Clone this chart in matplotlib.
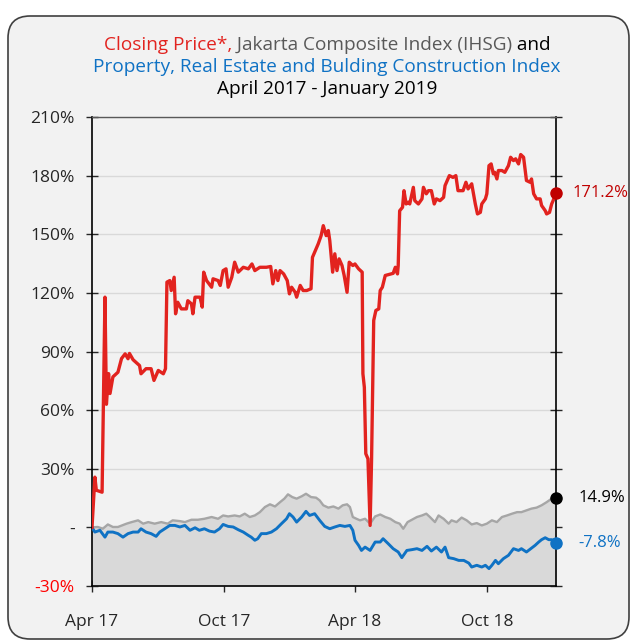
import numpy as np
import matplotlib
matplotlib.use('Agg')
import matplotlib.pyplot as plt
from matplotlib.patches import FancyBboxPatch

plt.rcParams['font.family'] = ['Open Sans', 'DejaVu Sans']

# Data: days since 2017-04-01, values in % change
start = np.datetime64('2017-04-01')

red_days = [0, 4, 6, 14, 18, 20, 23, 25, 29, 36, 41, 46, 50, 52, 57, 66, 68, 75, 82, 86,
            92, 99, 102, 104, 108, 110, 114, 116, 119, 124, 131, 133, 138, 140, 143, 150,
            153, 155, 159, 166, 168, 175, 178, 182, 186, 189, 194, 198, 203, 210, 217, 222,
            226, 233, 242, 248, 251, 255, 258, 261, 266, 271, 274, 277, 282, 284, 289, 293,
            298, 304, 306, 310, 314, 318, 321, 325, 328, 330, 334, 337, 340, 343, 347, 350,
            354, 357, 362, 365, 370, 375, 376, 378, 380, 383, 386, 388, 391, 394, 398, 400,
            403, 407, 418, 421, 424, 425, 427, 431, 433, 436, 439, 441, 446, 448, 453, 458,
            460, 464, 467, 471, 475, 478, 483, 488, 490, 496, 501, 505, 508, 515, 519, 522,
            527, 532, 535, 539, 541, 546, 548, 551, 554, 557, 559, 562, 564, 569, 573, 578,
            581, 585, 588, 592, 595, 599, 603, 608, 610, 613, 617, 622, 624, 629, 631, 635,
            638, 640, 644]
red_vals = [0, 25.7, 19, 18, 117.8, 63, 78.7, 68.5, 77, 79.4, 86.4, 88.8, 86.3, 89, 85.8,
            82.8, 78.6, 81.2, 81.2, 75.2, 80.3, 78.6, 81.2, 125.5, 126.3, 121.2, 128, 109.3,
            115.2, 111.8, 111.8, 116, 114.4, 109.3, 117.8, 117.8, 112.7, 130.6, 126.3, 122.9,
            127.2, 126.3, 123.8, 131.4, 132.3, 122.9, 128, 135.7, 130.6, 133.1, 132.3, 134.8,
            131.4, 133.1, 133.1, 133.5, 124.6, 131.4, 126.3, 131.4, 129.7, 126.3, 119.5, 122.9,
            120.3, 117.8, 123.8, 121.2, 121.2, 122.1, 138.2, 141.7, 145.1, 149.3, 154.4, 149.3,
            151.9, 146.8, 130.6, 140, 131.4, 137.4, 134, 128.9, 120.3, 135.7, 134, 134.8,
            132.3, 130.6, 78.6, 71.7, 37.7, 35.1, 1, 34.3, 105.9, 111, 111.8, 121.2, 122.9,
            128.9, 130, 133.1, 129.7, 134, 162, 163.8, 172.3, 165.5, 166.4, 165.5, 174, 167.2,
            165.5, 168.1, 174, 170.7, 172.3, 172.3, 165.5, 168.1, 167.2, 168.9, 174.9, 180,
            179.1, 180, 172.3, 172.3, 176.6, 173.2, 175.8, 165.5, 160.4, 161.2, 165.5, 168.1,
            170.7, 185.1, 186, 180.9, 181.7, 178.3, 182.6, 182.6, 181.7, 185.1, 189.4, 187.7,
            188.6, 186, 190.8, 189.4, 177.5, 176.6, 178.3, 170.7, 168.1, 168.1, 164.7, 162.1,
            160.4, 161.2, 165.5, 167.2, 171.2]

jci_days = [0, 8, 15, 22, 29, 36, 48, 55, 64, 71, 78, 87, 96, 105, 112, 122, 129, 138, 147,
            156, 166, 175, 182, 189, 198, 205, 212, 219, 226, 233, 240, 247, 254, 261, 267,
            272, 278, 284, 291, 297, 304, 311, 316, 321, 328, 335, 342, 348, 354, 358, 362,
            367, 372, 379, 386, 393, 400, 407, 414, 421, 427, 432, 438, 444, 451, 458, 464,
            469, 476, 481, 488, 495, 499, 506, 513, 520, 527, 534, 541, 548, 555, 562, 569,
            576, 583, 590, 596, 603, 610, 617, 624, 631, 638, 644]
jci_vals = [0, 0.2, -0.7, 1.5, 0.2, 0.2, 1.9, 2.7, 3.6, 1.9, 2.7, 1.9, 2.7, 1.9, 3.6, 3.2,
            2.7, 3.9, 3.9, 4.4, 5.3, 4.4, 6.1, 5.6, 6.1, 5.6, 7, 5.3, 6.1, 7.8, 10.4, 11.8,
            10.7, 12.9, 14.7, 16.9, 15.5, 14.7, 15.9, 17.2, 15.5, 15.2, 13.8, 11.3, 10.1,
            10.7, 9.6, 11.3, 11.8, 10.4, 5.3, 4.4, 3.6, 4.4, 1.9, 5.6, 6.6, 5.3, 4.4, 2.7,
            1.9, -0.7, 2.7, 3.9, 5.3, 6.1, 7, 5.3, 2.7, 6.1, 4.4, 1.9, 3.6, 2.7, 5, 3.6, 1.5,
            2.2, 1, 1.9, 3.6, 2.7, 5.3, 6.1, 7, 7.8, 7.8, 8.7, 9.6, 10.1, 11.3, 12.9, 14.7,
            14.9]

prop_days = [0, 4, 11, 18, 22, 29, 36, 43, 50, 57, 64, 68, 75, 82, 89, 94, 101, 108, 115,
             122, 129, 136, 143, 149, 156, 163, 170, 177, 182, 189, 196, 203, 210, 217, 221,
             226, 230, 235, 242, 249, 256, 263, 270, 274, 279, 284, 291, 297, 302, 309, 316,
             323, 330, 337, 344, 351, 358, 362, 365, 370, 374, 379, 386, 393, 400, 404, 411,
             418, 425, 430, 437, 444, 451, 458, 465, 471, 478, 485, 490, 495, 502, 509, 516,
             523, 527, 534, 541, 546, 551, 555, 560, 564, 571, 578, 585, 592, 596, 603, 609,
             615, 620, 624, 629, 634, 638, 644]
prop_vals = [0, -2.4, -1.5, -5, -2.4, -2.4, -3.2, -5, -3.2, -2.4, -2.4, -0.7, -2.4, -3.2,
             -4.6, -2.4, -0.7, 1, 1, 0.2, 1, -1.5, -0.2, -1.5, -0.7, -1.9, -2.4, -0.7, 1.5,
             0.5, 0.2, -1.2, -2.4, -4.1, -5, -6.6, -5.8, -3.2, -3.2, -2.4, -0.7, 1.9, 4.4, 7,
             5.3, 2.7, 5.3, 8.2, 6.1, 7, 3.6, 0.5, -0.7, 0.2, 1, 0.5, 1, -1.5, -6.6, -9.2,
             -11.8, -10.1, -11.8, -7.5, -7.5, -5.8, -8.3, -10.9, -12.6, -15.5, -11.8, -11.4,
             -10.9, -11.8, -9.7, -12.1, -10.1, -12.6, -10.1, -15.5, -16, -16.9, -16.9, -18.3,
             -20.3, -19.4, -20.3, -19.4, -21.1, -19.4, -16.9, -18.6, -16, -14.3, -10.9, -11.8,
             -10.9, -12.6, -10.9, -9.2, -7.5, -6.3, -5.3, -6.3, -6.3, -7.8]

tick_dates = ['2017-04-01', '2017-10-01', '2018-04-01', '2018-10-01']
tick_names = ['Apr 17', 'Oct 17', 'Apr 18', 'Oct 18']
y_ticks = [-30, 0, 30, 60, 90, 120, 150, 180, 210]
y_names = ['-30%', '-', '30%', '60%', '90%', '120%', '150%', '180%', '210%']

red = '#e2231f'
blue = '#0f72c4'
gray = '#a6a6a6'
bg = '#f2f2f2'

red_x = start + np.array(red_days, dtype='timedelta64[D]')
jci_x = start + np.array(jci_days, dtype='timedelta64[D]')
prop_x = start + np.array(prop_days, dtype='timedelta64[D]')

W, H = 631, 641
fig = plt.figure(figsize=(W / 100, H / 100), dpi=100, facecolor='white')
box = FancyBboxPatch((8 / W, 2 / H), 621 / W, 623 / H, boxstyle='round,pad=0,rounding_size=0.035',
                     mutation_aspect=W / H, transform=fig.transFigure, facecolor=bg,
                     edgecolor='#404040', linewidth=1.2, zorder=-1)
fig.patches.append(box)

ax = fig.add_axes([92 / W, 55 / H, 464 / W, 469 / H])
ax.set_facecolor(bg)

ax.fill_between(jci_x, jci_vals, -30, color='#d9d9d9', lw=0, zorder=1)
ax.plot(jci_x, jci_vals, color=gray, lw=1.7, zorder=2)
ax.plot(prop_x, prop_vals, color=blue, lw=2.1, zorder=3)
ax.plot(red_x, red_vals, color=red, lw=2.4, zorder=4)

ax.plot(red_x[-1], red_vals[-1], 'o', ms=8, color='#c00000', clip_on=False, zorder=6)
ax.plot(jci_x[-1], jci_vals[-1], 'o', ms=8, color='black', clip_on=False, zorder=6)
ax.plot(prop_x[-1], prop_vals[-1], 'o', ms=8, color=blue, clip_on=False, zorder=6)
ax.annotate('%.1f%%' % red_vals[-1], (red_x[-1], red_vals[-1]), xytext=(12, 0),
            textcoords='offset points', va='center', fontsize=12, color='#c00000')
ax.annotate('%.1f%%' % jci_vals[-1], (jci_x[-1], jci_vals[-1]), xytext=(16, 0),
            textcoords='offset points', va='center', fontsize=12, color='black')
ax.annotate('%.1f%%' % prop_vals[-1], (prop_x[-1], prop_vals[-1]), xytext=(16, 0),
            textcoords='offset points', va='center', fontsize=12, color=blue)

ax.set_xlim(start, start + np.timedelta64(644, 'D'))
ax.set_ylim(-30, 210)
ax.set_xticks([np.datetime64(d) for d in tick_dates])
ax.set_xticklabels(tick_names, fontsize=12.5)
ax.set_yticks(y_ticks)
ax.set_yticklabels(y_names, fontsize=12.5)
ax.yaxis.grid(True, color='#d9d9d9', lw=1)
ax.set_axisbelow(True)
ax.tick_params(axis='y', direction='inout', length=9, width=1, right=True, pad=8, colors='#262626')
ax.tick_params(axis='x', direction='inout', length=9, width=1, pad=16, colors='#262626')
ax.get_yticklabels()[0].set_color('#ff0000')
for s in ['left', 'right', 'bottom']:
    ax.spines[s].set_color('black')
    ax.spines[s].set_linewidth(1.2)
ax.spines['top'].set_color('#595959')
ax.spines['top'].set_linewidth(1)

# multi-coloured title
r = fig.canvas.get_renderer()
def title_line(y, parts, size=13.7):
    texts = [fig.text(0, y, s, color=c, fontsize=size, va='center') for s, c in parts]
    widths = [t.get_window_extent(r).width for t in texts]
    x = 327 - sum(widths) / 2
    for t, w in zip(texts, widths):
        t.set_x(x / W)
        x += w

title_line(1 - 45 / H, [('Closing Price*,', red), (' Jakarta Composite Index (IHSG)', '#595959'),
                        (' and', 'black')])
title_line(1 - 67 / H, [('Property, Real Estate and Bulding Construction Index', blue)])
title_line(1 - 89 / H, [('April 2017 - January 2019', 'black')])

plt.savefig('out.png', dpi=100, facecolor='white')
